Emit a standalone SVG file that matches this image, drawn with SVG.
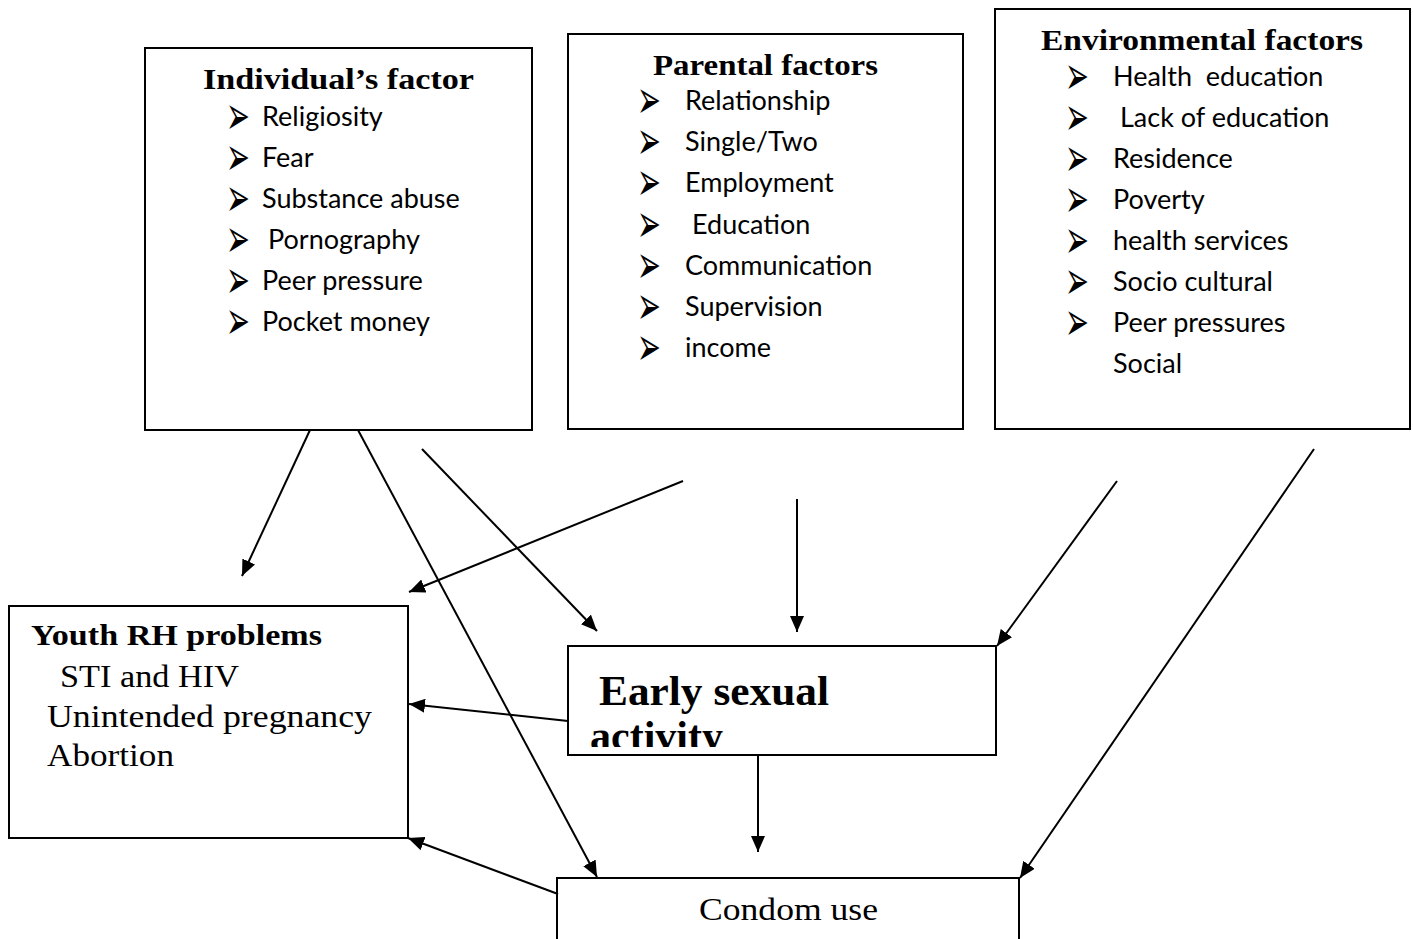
<svg xmlns="http://www.w3.org/2000/svg" xmlns:xlink="http://www.w3.org/1999/xlink" width="1413" height="939" viewBox="0 0 1413 939">
<style>
.box{fill:#fff;stroke:#000;stroke-width:2}
.h{font-family:"Liberation Serif","Times New Roman",serif;font-weight:bold;font-size:30px;fill:#000}
.s{font-family:"Liberation Serif","Times New Roman",serif;font-size:31px;fill:#000}
.i{font-family:Lato,"Liberation Sans",sans-serif;font-size:27px;fill:#000}
.b{font-family:"DejaVu Sans",sans-serif;font-size:30px;fill:#000}
.c line{stroke:#000;stroke-width:2}
</style>
<defs>
<marker id="ah" markerUnits="userSpaceOnUse" markerWidth="16" markerHeight="14" viewBox="0 0 16 14" refX="16" refY="7" orient="auto">
<path d="M0,0 L16,7 L0,14 z" fill="#000"/>
</marker>
<clipPath id="esclip"><rect x="569" y="647" width="426" height="100"/></clipPath>
<text id="bul" class="b" transform="scale(0.95,1.8)" y="10.6">➢</text>
</defs>
<g id="individual">
<rect class="box" x="145" y="48" width="387" height="382"/>
<text class="h" x="203" y="89" textLength="271" lengthAdjust="spacingAndGlyphs">Individual’s factor</text>
<g><use xlink:href="#bul" href="#bul" x="226" y="115"/><use xlink:href="#bul" href="#bul" x="226" y="156"/><use xlink:href="#bul" href="#bul" x="226" y="197"/><use xlink:href="#bul" href="#bul" x="226" y="238"/><use xlink:href="#bul" href="#bul" x="226" y="279"/><use xlink:href="#bul" href="#bul" x="226" y="320"/></g>
<g class="i"><text x="262" y="126">Religiosity</text><text x="262" y="167">Fear</text><text x="262" y="208">Substance abuse</text><text x="268" y="249">Pornography</text><text x="262" y="290">Peer pressure</text><text x="262" y="331">Pocket money</text></g>
</g>
<g id="parental">
<rect class="box" x="568" y="34" width="395" height="395"/>
<text class="h" x="653" y="75" textLength="225" lengthAdjust="spacingAndGlyphs">Parental factors</text>
<g><use xlink:href="#bul" href="#bul" x="637" y="99"/><use xlink:href="#bul" href="#bul" x="637" y="140"/><use xlink:href="#bul" href="#bul" x="637" y="181"/><use xlink:href="#bul" href="#bul" x="637" y="223"/><use xlink:href="#bul" href="#bul" x="637" y="264"/><use xlink:href="#bul" href="#bul" x="637" y="305"/><use xlink:href="#bul" href="#bul" x="637" y="346"/></g>
<g class="i"><text x="685" y="110">Relationship</text><text x="685" y="151">Single/Two</text><text x="685" y="192">Employment</text><text x="692" y="234">Education</text><text x="685" y="275">Communication</text><text x="685" y="316">Supervision</text><text x="685" y="357">income</text></g>
</g>
<g id="environmental">
<rect class="box" x="995" y="9" width="415" height="420"/>
<text class="h" x="1041" y="50" textLength="322" lengthAdjust="spacingAndGlyphs">Environmental factors</text>
<g><use xlink:href="#bul" href="#bul" x="1065" y="75"/><use xlink:href="#bul" href="#bul" x="1065" y="116"/><use xlink:href="#bul" href="#bul" x="1065" y="157"/><use xlink:href="#bul" href="#bul" x="1065" y="198"/><use xlink:href="#bul" href="#bul" x="1065" y="239"/><use xlink:href="#bul" href="#bul" x="1065" y="280"/><use xlink:href="#bul" href="#bul" x="1065" y="321"/></g>
<g class="i"><text x="1113" y="86" xml:space="preserve">Health  education</text><text x="1120" y="127">Lack of education</text><text x="1113" y="168">Residence</text><text x="1113" y="209">Poverty</text><text x="1113" y="250">health services</text><text x="1113" y="291">Socio cultural</text><text x="1113" y="332">Peer pressures</text><text x="1113" y="373">Social</text></g>
</g>
<g id="youth">
<rect class="box" x="9" y="606" width="399" height="232"/>
<text class="h" x="31" y="645" textLength="291" lengthAdjust="spacingAndGlyphs">Youth RH problems</text>
<text class="s" x="60" y="687" textLength="179" lengthAdjust="spacingAndGlyphs">STI and HIV</text>
<text class="s" x="47" y="727" textLength="325" lengthAdjust="spacingAndGlyphs">Unintended pregnancy</text>
<text class="s" x="47" y="766" textLength="127" lengthAdjust="spacingAndGlyphs">Abortion</text>
</g>
<g id="early">
<rect class="box" x="568" y="646" width="428" height="109"/>
<g clip-path="url(#esclip)">
<text class="h" style="font-size:42px" x="599" y="705" textLength="230" lengthAdjust="spacingAndGlyphs">Early sexual</text>
<text class="h" style="font-size:42px" x="590" y="750">activity</text>
</g>
</g>
<g id="condom">
<rect class="box" x="557" y="878" width="462" height="70"/>
<text class="s" x="699" y="920" textLength="179" lengthAdjust="spacingAndGlyphs">Condom use</text>
</g>
<g id="connectors" class="c">
<line x1="310" y1="430" x2="242" y2="576" marker-end="url(#ah)"/>
<line x1="358" y1="430" x2="597" y2="877" marker-end="url(#ah)"/>
<line x1="422" y1="449" x2="597" y2="631" marker-end="url(#ah)"/>
<line x1="683" y1="481" x2="409" y2="592" marker-end="url(#ah)"/>
<line x1="797" y1="499" x2="797" y2="632" marker-end="url(#ah)"/>
<line x1="1117" y1="481" x2="997" y2="646" marker-end="url(#ah)"/>
<line x1="1314" y1="449" x2="1020" y2="878" marker-end="url(#ah)"/>
<line x1="568" y1="721" x2="409" y2="704" marker-end="url(#ah)"/>
<line x1="758" y1="755" x2="758" y2="852" marker-end="url(#ah)"/>
<line x1="558" y1="894" x2="408" y2="838" marker-end="url(#ah)"/>
</g>
</svg>
